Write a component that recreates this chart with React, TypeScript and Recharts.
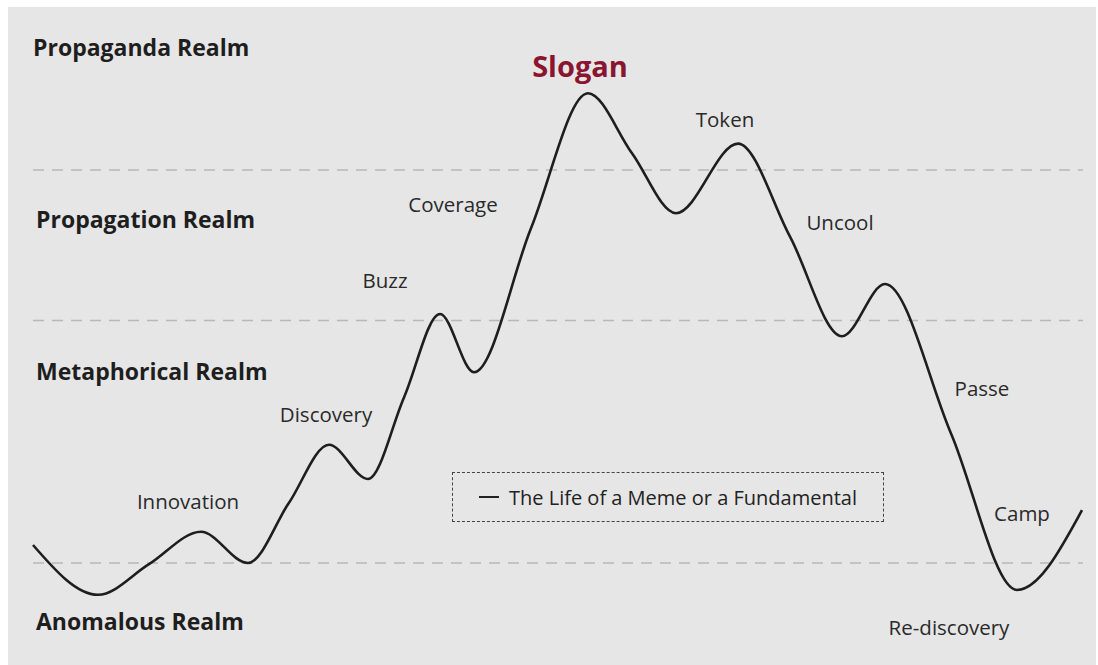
import React from 'react';
import { LineChart, Line, XAxis, YAxis, ReferenceLine, ReferenceDot } from 'recharts';

// time (x) values along the life cycle
const times = [
  0, 6.5, 11.6, 16.8, 21.5, 25.55, 29.6, 33.5, 37.1, 40.7,
  44.1, 49.8, 55.5, 59.9, 64.3, 70.5, 75.7, 80.9, 85.2, 91.8,
  98.4, 104.9,
];
// intensity (y) values
const intensity = [
  15.0, 6.7, 11.8, 17.2, 12.0, 21.9, 31.7, 26.0, 39.6, 53.5,
  43.8, 67.8, 90.3, 80.3, 70.3, 81.9, 66.4, 49.8, 58.5, 33.6,
  7.5, 20.8,
];

const realmBoundaries = [12.0, 52.4, 77.5];

const stageNames = ['Slogan', 'Token', 'Coverage', 'Buzz', 'Discovery', 'Innovation', 'Uncool', 'Passe', 'Camp', 'Re-discovery'];
const stageX = [54.7, 69.2, 42, 35.2, 29.3, 15.5, 80.7, 94.9, 98.9, 91.6];
const stageY = [95, 86, 71.8, 59.2, 36.8, 22.3, 68.8, 41.2, 20.3, 1.3];

const realmNames = ['Propaganda Realm', 'Propagation Realm', 'Metaphorical Realm', 'Anomalous Realm'];
const realmX = [0, 0.3, 0.3, 0.3];
const realmY = [98, 69.3, 44, 2.3];

const seriesName = 'The Life of a Meme or a Fundamental';

const data = times.map((t, i) => ({ t, v: intensity[i] }));

const FONT = '"Open Sans", "DejaVu Sans", sans-serif';

export default function App() {
  return (
    <div style={{ position: 'fixed', left: 8, top: 7, width: 1088, height: 658 }}>
      <LineChart
        width={1088}
        height={658}
        data={data}
        margin={{ top: 28, right: 13, bottom: 30, left: 25 }}
        style={{ background: '#e6e6e6' }}
      >
        <XAxis type="number" dataKey="t" domain={[0, 105]} hide />
        <YAxis type="number" domain={[0, 100]} hide />
        {realmBoundaries.map((y) => (
          <ReferenceLine key={y} y={y} stroke="#b8b8b8" strokeWidth={1.5} strokeDasharray="11 8" />
        ))}
        <Line
          type="monotone"
          dataKey="v"
          name={seriesName}
          stroke="#1e1e1e"
          strokeWidth={2.6}
          dot={false}
          isAnimationActive={false}
        />
        {stageNames.map((name, i) => (
          <ReferenceDot
            key={name}
            x={stageX[i]}
            y={stageY[i]}
            r={0}
            shape={(p: any) => (
              <text
                x={p.cx}
                y={p.cy}
                textAnchor="middle"
                dominantBaseline="central"
                fontFamily={FONT}
                fontSize={name === 'Slogan' ? 29 : 20.5}
                fontWeight={name === 'Slogan' ? 700 : 400}
                fill={name === 'Slogan' ? '#8a1530' : '#2a2a2a'}
              >
                {name}
              </text>
            )}
          />
        ))}
        {realmNames.map((name, i) => (
          <ReferenceDot
            key={name}
            x={realmX[i]}
            y={realmY[i]}
            r={0}
            shape={(p: any) => (
              <text
                x={p.cx}
                y={p.cy}
                textAnchor="start"
                dominantBaseline="central"
                fontFamily={FONT}
                fontSize={23}
                fontWeight={700}
                fill="#1e1e1e"
              >
                {name}
              </text>
            )}
          />
        ))}
      </LineChart>
      <div style={{
        position: 'absolute', left: 444, top: 465, width: 432, height: 50, boxSizing: 'border-box',
        border: '1.5px dashed #444', display: 'flex', alignItems: 'center', justifyContent: 'center',
        fontFamily: FONT, fontSize: 20, color: '#222',
      }}>
        <span style={{ display: 'inline-block', width: 20, height: 2.5, background: '#222', marginRight: 10 }} />
        {seriesName}
      </div>
    </div>
  );
}
